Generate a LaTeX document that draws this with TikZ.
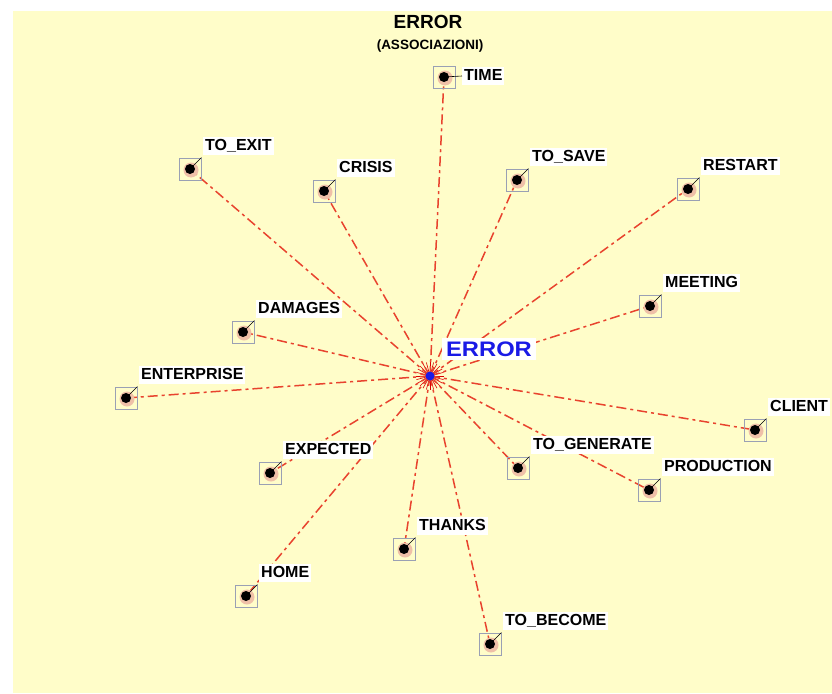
\documentclass[tikz,border=0pt]{standalone}
\usepackage{fontspec}
\setmainfont{Liberation Sans}
\pgfdeclarelayer{back}
\pgfdeclarelayer{lines}
\pgfsetlayers{back,lines,main}
\definecolor{bgyellow}{HTML}{FFFDC9}
\definecolor{linered}{HTML}{E8432E}
\definecolor{boxgray}{HTML}{9AA0B4}
\definecolor{halopink}{HTML}{EFC0A8}
\definecolor{errblue}{HTML}{1A1AE6}
\tikzset{
  conn/.style={draw=linered, line width=1.5pt, dash pattern=on 10pt off 4pt on 3pt off 4pt},
  sq/.style={draw=boxgray, line width=0.9pt, minimum size=22pt, inner sep=0pt},
  lbl/.style={fill=white, inner sep=2pt, text height=11.5pt, text depth=2pt, font=\fontsize{16}{16}\selectfont\bfseries},
  dotc/.style={circle, fill=black, minimum size=10pt, inner sep=0pt},
  halo/.style={circle, fill=halopink, minimum size=15pt, inner sep=0pt},
  tick/.style={draw=black, line width=0.6pt},
  ray/.style={draw=red!85!black, line width=0.6pt},
}
\begin{document}
\begin{tikzpicture}[x=1pt,y=-1pt]
\useasboundingbox (0,0) rectangle (832,693);
\begin{pgfonlayer}{back}
\fill[white] (0,0) rectangle (832,693);
\fill[bgyellow] (13,11) rectangle (832,693);
\end{pgfonlayer}
% titles
\node[font=\fontsize{19}{19}\selectfont\bfseries] (title) at (428,22) {ERROR};
\node[font=\fontsize{13.5}{13.5}\selectfont\bfseries] (subtitle) at (430,46) {(ASSOCIAZIONI)};
% centre
\node[circle, fill=errblue, minimum size=9pt, inner sep=0pt] (c) at (430,376) {};
\begin{pgfonlayer}{lines}
\foreach \a in {0,15,...,345} {
  \draw[ray] (c.center) -- ++(\a:14);
}
\end{pgfonlayer}
\node[fill=white, text=errblue, font=\fontsize{21}{21}\selectfont\bfseries, xscale=1.13, inner xsep=4pt, inner ysep=4pt] (errlbl) at (489,349) {ERROR};
% TIME (label to the right)
\node[halo] (time-h) at (445,78) {};
\node[sq] (time) at (444,77) {};
\node[dotc] (time-d) at (444,77) {};
\node[lbl, anchor=west] (time-l) at (462,76) {TIME};
\draw[tick] (time-d.center) -- (time-l.west);
\begin{pgfonlayer}{lines}
\draw[conn] (c.center) -- (time-d.center);
\end{pgfonlayer}
% other nodes
\foreach \n/\x/\y/\t in {
  toexit/190/169/TO\_EXIT,
  crisis/324/191/CRISIS,
  tosave/517/180/TO\_SAVE,
  restart/688/189/RESTART,
  meeting/650/306/MEETING,
  damages/243/332/DAMAGES,
  enterprise/126/398/ENTERPRISE,
  client/755/430/CLIENT,
  expected/270/473/EXPECTED,
  togenerate/518/468/TO\_GENERATE,
  production/649/490/PRODUCTION,
  thanks/404/549/THANKS,
  home/246/596/HOME,
  tobecome/490/644/TO\_BECOME} {
  \node[halo] (\n-h) at (\x+1,\y+1) {};
  \node[sq] (\n) at (\x,\y) {};
  \node[dotc] (\n-d) at (\x,\y) {};
  \node[lbl, anchor=south west] (\n-l) at (\x+13,\y-14) {\t};
  \draw[tick] (\n-d.center) -- (\n.north east);
  \begin{pgfonlayer}{lines}
  \draw[conn] (c.center) -- (\n-d.center);
  \end{pgfonlayer}
}
\end{tikzpicture}
\end{document}
